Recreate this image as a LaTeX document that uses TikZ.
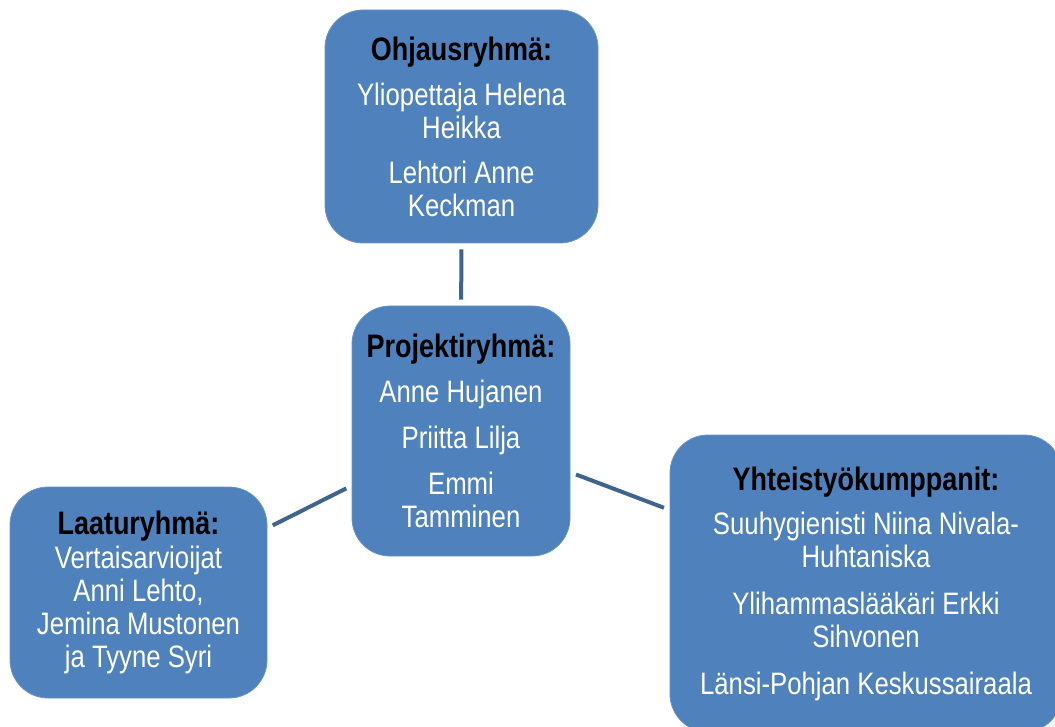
\documentclass[tikz,border=0pt]{standalone}
\usepackage{fontspec}
\setmainfont{Liberation Sans}[FakeStretch=0.83]
\definecolor{boxblue}{HTML}{4F81BD}
\definecolor{linkblue}{HTML}{41648F}
\newcommand{\grouptitle}[1]{{\fontsize{32.5}{33}\selectfont\bfseries\color{black}#1}}
\begin{document}
\begin{tikzpicture}[x=1pt,y=-1pt,
  groupbox/.style={rectangle, rounded corners=38pt, fill=boxblue, draw=boxblue!85!white, line width=0.8pt,
    inner sep=0pt, align=center, text=white, font=\fontsize{31}{33}\selectfont},
  link/.style={draw=linkblue, line width=4pt, shorten <=6pt, shorten >=6pt}]
\useasboundingbox (0,0) rectangle (1055,727);
\clip (0,0) rectangle (1055,727);
\node[groupbox, minimum width=273pt, minimum height=233pt] (ohj) at (461.5,126.5)
  {\grouptitle{Ohjausryhmä:}\\[12pt]Yliopettaja Helena\\Heikka\\[12pt]Lehtori Anne\\Keckman};
\node[groupbox, minimum width=218pt, minimum height=250pt] (proj) at (461,431)
  {\grouptitle{Projektiryhmä:}\\[12pt]Anne Hujanen\\[13pt]Priitta Lilja\\[13pt]Emmi\\Tamminen};
\node[groupbox, minimum width=257pt, minimum height=211pt] (laatu) at (138.5,592.5)
  {\grouptitle{Laaturyhmä:}\\[1pt]Vertaisarvioijat\\Anni Lehto,\\Jemina  Mustonen\\ja Tyyne  Syri};
\node[groupbox, minimum width=392pt, minimum height=297pt] (yht) at (866,583.5)
  {\grouptitle{Yhteistyökumppanit:}\\[11pt]Suuhygienisti  Niina  Nivala-\\Huhtaniska\\[14pt]Ylihammaslääkäri  Erkki\\Sihvonen\\[14pt]Länsi-Pohjan  Keskussairaala};
\draw[link] (ohj) -- (proj);
\draw[link] (proj) -- (laatu);
\draw[link] (proj) -- (yht);
\end{tikzpicture}
\end{document}
